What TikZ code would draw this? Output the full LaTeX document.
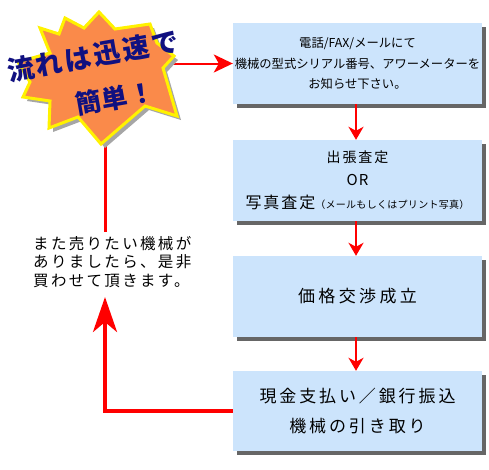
\documentclass[tikz,border=0pt]{standalone}
\usepackage{fontspec}
\newfontfamily\cjk{Noto Sans CJK JP}
\newfontfamily\cjkblack{Noto Sans CJK JP Black}
\usetikzlibrary{arrows.meta,shadows}
\definecolor{boxblue}{RGB}{204,228,252}
\definecolor{starorange}{RGB}{250,138,74}
\definecolor{starnavy}{RGB}{16,16,128}
\begin{document}
\begin{tikzpicture}[x=1pt,y=-1pt,
  flowbox/.style={rectangle, fill=boxblue, minimum width=249pt, minimum height=81pt,
    inner sep=0pt, align=center, text=black,
    drop shadow={shadow xshift=3.5pt, shadow yshift=-3.5pt, fill=black, opacity=0.6}},
  redthin/.style={draw=red, line width=2.5pt},
  downarrow/.style={redthin, -{Stealth[length=13pt, width=15pt, inset=4pt]}},
  sidearrow/.style={draw=red, line width=2pt, -{Stealth[length=19pt, width=18pt, inset=5pt]}},
  backarrow/.style={draw=red, line width=4pt, -{Stealth[length=35pt, width=24pt, inset=10pt]}},
  startext/.style={text=starnavy, inner sep=0pt, rotate=10}
]
\useasboundingbox (0,0) rectangle (489,469);

% boxes
\node[flowbox, font=\cjk\fontsize{12.3}{20.5}\selectfont] (b1) at (357.5,63.5) {電話/FAX/メールにて\\機械の型式シリアル番号、アワーメーターを\\お知らせ下さい。};
\node[flowbox, font=\cjk\fontsize{14}{23}\selectfont\addfontfeature{LetterSpace=14}] (b2) at (357.5,180.5) {出張査定\\{\fontsize{15}{23}\selectfont\addfontfeature{LetterSpace=6}OR}\\{\fontsize{16}{23}\selectfont\addfontfeature{LetterSpace=12}写真査定}{\fontsize{10}{23}\selectfont\addfontfeature{LetterSpace=3}（メールもしくはプリント写真）}};
\node[flowbox, font=\cjk\fontsize{17}{23}\selectfont\addfontfeature{LetterSpace=20}] (b3) at (357.5,296.5) {価格交渉成立};
\node[flowbox, minimum height=80pt, font=\cjk\fontsize{17}{30}\selectfont\addfontfeature{LetterSpace=17}] (b4) at (357.5,411) {現金支払い／銀行振込\\機械の引き取り};

% arrows between boxes
\draw[downarrow] (b1.south -| 356,0) -- (b2.north -| 356,0);
\draw[downarrow] (b2.south -| 356,0) -- (b3.north -| 356,0);
\draw[downarrow] (b3.south -| 356,0) -- (b4.north -| 356,0);

% return path
\coordinate (rettip) at (105,297);
\draw[backarrow] (b4.west) -| (rettip);

% line from star to text
\coordinate (lnstart) at (105,135);
\coordinate (lnend) at (105,232);
\draw[draw=red, line width=3pt] (lnstart) -- (lnend);

% left text
\node[anchor=north west, align=left, inner sep=0pt, font=\cjk\fontsize{15.5}{18.5}\selectfont\addfontfeature{LetterSpace=15}] (note) at (33,236)
  {また売りたい機械が\\ありましたら、是非\\買わせて頂きます。};

% star arrow
\coordinate (starright) at (160,63.5);
\draw[sidearrow] (starright) -- (b1.west);

% star shadow
\fill[black!35] (103,16) -- (119,33) -- (154,28) -- (161,47) -- (178,60) -- (167,72) -- (181,120) -- (149,110) -- (105,148) -- (82,121) -- (53,132) -- (54,105) -- (27,101) -- (34,86) -- (22,66) -- (54,57) -- (44,32) -- (63,38) -- (69,22) -- (88,32) -- cycle;
% star
\filldraw[fill=starorange, draw=yellow, line width=3pt, miter limit=6]
  (99,12) -- (115,29) -- (150,24) -- (157,43) -- (174,56) -- (163,68) -- (177,116) -- (145,106) -- (101,144) -- (78,117) -- (49,128) -- (50,101) -- (23,97) -- (30,82) -- (18,62) -- (50,53) -- (40,28) -- (59,34) -- (65,18) -- (84,28) -- cycle;

\node[startext, font=\cjkblack\fontsize{27}{28}\selectfont\addfontfeature{LetterSpace=9}] (st1) at (93,56) {流れは迅速で};
\node[startext, font=\cjkblack\fontsize{26}{28}\selectfont\addfontfeature{LetterSpace=5}] (st2) at (115,98) {簡単！};
\end{tikzpicture}
\end{document}
